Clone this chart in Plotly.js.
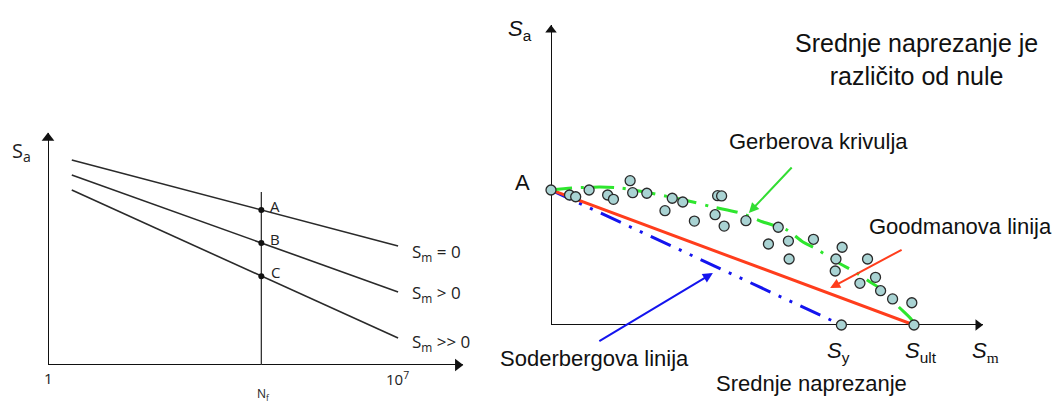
<!DOCTYPE html>
<html><head><meta charset="utf-8">
<script src="https://cdn.plot.ly/plotly-3.0.1.min.js"></script>
<style>html,body{margin:0;padding:0;background:#fff;}#chart{width:1054px;height:403px;}</style>
</head><body><div id="chart"></div>
<script>
// ---------- Left panel: S-N curves ----------
const lifeEnds = [3, 1.05e7];
const saZeroMean = [88.4, 51.3];
const saPosMean = [81.9, 31.5];
const saHighMean = [75.4, 11.6];
const refLife = [1.9e4, 1.9e4];
const refLineSa = [0, 74.6];
const pointLife = [1.9e4, 1.9e4, 1.9e4];
const pointSa = [66.8, 52.6, 38.3];
const pointLabels = ['A', 'B', 'C'];
const curveLabels = ['S<sub>m</sub> = 0', 'S<sub>m</sub> &gt; 0', 'S<sub>m</sub> &gt;&gt; 0'];
const curveLabelSa = [48.7, 31.0, 9.5];
const lifeTickVals = [1, 1e7];
const lifeTickText = ['1', '10<sup>7</sup>'];
const leftAxisMax = [10 ** 8.32, 100];   // arrow tips: N, Sa

// ---------- Right panel: mean stress diagram ----------
const goodmanSm = [0, 1];
const goodmanSa = [1, 0];
const soderbergSm = [0, 0.8];
const soderbergSa = [1, 0];
const gerberSm = [0, 0.061, 0.135, 0.190, 0.273, 0.391, 0.446, 0.521, 0.584, 0.650, 0.694, 0.727, 0.788, 0.837, 0.879, 0.912, 0.961, 0.994, 1.0];
const gerberSa = [1, 1.015, 1.022, 1.015, 0.978, 0.911, 0.874, 0.830, 0.763, 0.704, 0.615, 0.570, 0.467, 0.393, 0.319, 0.259, 0.126, 0.037, 0];
const testSm = [0, 0.051, 0.068, 0.105, 0.156, 0.172, 0.218, 0.225, 0.264, 0.314, 0.334, 0.363, 0.395, 0.452, 0.459, 0.470, 0.477, 0.537, 0.626, 0.599, 0.654, 0.656, 0.723, 0.802, 0.785, 0.783, 0.872, 0.851, 0.894, 0.908, 0.941, 0.994, 0.8, 1.0];
const testSa = [1, 0.963, 0.950, 1.0, 0.963, 0.931, 1.069, 0.980, 0.976, 0.847, 0.939, 0.911, 0.770, 0.817, 0.958, 0.956, 0.733, 0.773, 0.724, 0.600, 0.622, 0.489, 0.635, 0.576, 0.489, 0.400, 0.489, 0.309, 0.353, 0.254, 0.193, 0.165, 0, 0];
const Sy = 0.8, Sult = 1.0;
const rightAxisMax = [1.19, 2.222];   // arrow tips: Sm, Sa

const LF = 'Open Sans, Noto Sans, sans-serif';
const RF = 'Liberation Sans, Arial, sans-serif';
const leftLine = {color: '#2a2a2a', width: 1.6};
const axisLine = {color: '#111', width: 2};

// scale factors (pixels per unit) used for layout domains
const LXS = 49.86, LYS = 2.32, RXS = 363, RYS = 135;

const traces = [
  // left axes
  {x: [1, leftAxisMax[0]], y: [0, 0], mode: 'lines', line: axisLine, xaxis: 'x', yaxis: 'y', cliponaxis: false},
  {x: [1, 1], y: [0, leftAxisMax[1]], mode: 'lines', line: axisLine, xaxis: 'x', yaxis: 'y', cliponaxis: false},
  {x: [10 ** (8.32 - 5 / LXS)], y: [0], mode: 'markers', marker: {symbol: 'triangle-right', size: 11, color: '#111'}, xaxis: 'x', yaxis: 'y', cliponaxis: false},
  {x: [1], y: [leftAxisMax[1] - 5 / LYS], mode: 'markers', marker: {symbol: 'triangle-up', size: 11, color: '#111'}, xaxis: 'x', yaxis: 'y', cliponaxis: false},
  // left curves
  {x: lifeEnds, y: saZeroMean, mode: 'lines', line: leftLine, xaxis: 'x', yaxis: 'y', cliponaxis: false},
  {x: lifeEnds, y: saPosMean, mode: 'lines', line: leftLine, xaxis: 'x', yaxis: 'y', cliponaxis: false},
  {x: lifeEnds, y: saHighMean, mode: 'lines', line: leftLine, xaxis: 'x', yaxis: 'y', cliponaxis: false},
  {x: refLife, y: refLineSa, mode: 'lines', line: {color: '#333', width: 1.3}, xaxis: 'x', yaxis: 'y', cliponaxis: false},
  {x: pointLife, y: pointSa, mode: 'markers', marker: {size: 6, color: '#111'}, xaxis: 'x', yaxis: 'y', cliponaxis: false},
  // right axes
  {x: [0, rightAxisMax[0]], y: [0, 0], mode: 'lines', line: axisLine, xaxis: 'x2', yaxis: 'y2', cliponaxis: false},
  {x: [0, 0], y: [0, rightAxisMax[1]], mode: 'lines', line: axisLine, xaxis: 'x2', yaxis: 'y2', cliponaxis: false},
  {x: [rightAxisMax[0] - 5 / RXS], y: [0], mode: 'markers', marker: {symbol: 'triangle-right', size: 10, color: '#111'}, xaxis: 'x2', yaxis: 'y2', cliponaxis: false},
  {x: [0], y: [rightAxisMax[1] - 5 / RYS], mode: 'markers', marker: {symbol: 'triangle-up', size: 10, color: '#111'}, xaxis: 'x2', yaxis: 'y2', cliponaxis: false},
  // right curves
  {x: soderbergSm, y: soderbergSa, mode: 'lines', line: {color: '#1414ee', width: 3, dash: '22px,9px,3px,9px,3px,9px'}, xaxis: 'x2', yaxis: 'y2', cliponaxis: false},
  {x: goodmanSm, y: goodmanSa, mode: 'lines', line: {color: '#ff3d1c', width: 3}, xaxis: 'x2', yaxis: 'y2', cliponaxis: false},
  {x: gerberSm, y: gerberSa, mode: 'lines', line: {color: '#2ee62e', width: 3, dash: '21px,9px,3px,9px', shape: 'spline', smoothing: 0.8}, xaxis: 'x2', yaxis: 'y2', cliponaxis: false},
  {x: testSm, y: testSa, mode: 'markers', marker: {size: 10, color: '#a9d3d3', line: {color: '#2a2a2a', width: 1.3}}, xaxis: 'x2', yaxis: 'y2', cliponaxis: false}
];

const hidden = {showgrid: false, zeroline: false, showticklabels: false, showline: false, ticks: '', fixedrange: true};

const ann = [];
const base = {showarrow: false, xanchor: 'center', yanchor: 'middle'};
// left texts
const lt = (o) => Object.assign({}, base, {font: {family: LF, size: 15, color: '#222'}}, o);
ann.push(lt({xref: 'x', yref: 'y', x: 0, y: 100, xshift: -27, yshift: -19, text: 'S<sub>a</sub>', font: {family: LF, size: 20, color: '#222'}}));
pointLabels.forEach((t, i) => ann.push(lt({xref: 'x', yref: 'y', x: Math.log10(pointLife[i]), y: pointSa[i], xshift: 14, yshift: 4, text: t})));
curveLabels.forEach((t, i) => ann.push(lt({xref: 'x', yref: 'y', x: Math.log10(lifeEnds[1]), y: curveLabelSa[i], xshift: 12, xanchor: 'left', text: t, font: {family: LF, size: 17, color: '#222'}})));
lifeTickVals.forEach((v, i) => ann.push(lt({xref: 'x', yref: 'y', x: Math.log10(v), y: 0, yshift: -13, text: lifeTickText[i]})));
ann.push(lt({xref: 'x', yref: 'y', x: Math.log10(refLife[0]), y: 0, xshift: 2, yshift: -29, text: 'N<sub>f</sub>', font: {family: LF, size: 12, color: '#222'}}));

// right texts
const rt = (o) => Object.assign({}, base, {font: {family: RF, size: 22, color: '#111'}}, o);
ann.push(rt({xref: 'x2', yref: 'y2', x: 0, y: rightAxisMax[1], xshift: -31, yshift: -5, text: '<i>S</i><sub>a</sub>'}));
ann.push(rt({xref: 'x2', yref: 'y2', x: 0, y: 1, xshift: -29, yshift: 8, text: 'A'}));
ann.push(rt({xref: 'x2', yref: 'y2', x: 1.008, y: 1.963, text: 'Srednje naprezanje je<br>različito od nule', font: {family: RF, size: 25, color: '#111'}}));
ann.push(rt({xref: 'x2', yref: 'y2', x: 0.736, y: 1.356, text: 'Gerberova krivulja'}));
ann.push(rt({xref: 'x2', yref: 'y2', x: 1.127, y: 0.733, text: 'Goodmanova linija'}));
ann.push(rt({xref: 'paper', yref: 'paper', x: 594 / 1054, y: 1 - 358 / 403, text: 'Soderbergova linija'}));
ann.push(rt({xref: 'paper', yref: 'paper', x: 811 / 1054, y: 1 - 383 / 403, text: 'Srednje naprezanje'}));
ann.push(rt({xref: 'x2', yref: 'y2', x: Sy, y: 0, xshift: -3, yshift: -27, text: '<i>S</i><sub>y</sub>'}));
ann.push(rt({xref: 'x2', yref: 'y2', x: Sult, y: 0, xshift: 7, yshift: -27, text: '<i>S</i><sub>ult</sub>'}));
ann.push(rt({xref: 'x2', yref: 'y2', x: rightAxisMax[0], y: 0, xshift: 3, yshift: -27, text: '<i>S</i><sub><span style="font-family:Liberation Serif">m</span></sub>'}));

// pointer arrows
function pointer(x, y, ax, ay, c) {
  ann.push({xref: 'x2', yref: 'y2', axref: 'x2', ayref: 'y2', x: x, y: y, ax: ax, ay: ay, text: '', showarrow: true,
    arrowhead: 2, arrowsize: 1, arrowwidth: 2, arrowcolor: c, standoff: 0});
}
pointer(0.545, 0.830, 0.667, 1.178, '#33dd33');
pointer(0.446, 0.385, 0.129, -0.126, '#1414ee');
pointer(0.769, 0.274, 0.970, 0.563, '#ff3d1c');

const layout = {
  width: 1054, height: 403,
  margin: {l: 0, r: 0, t: 0, b: 0},
  paper_bgcolor: '#fff', plot_bgcolor: 'rgba(0,0,0,0)',
  showlegend: false,
  xaxis: Object.assign({}, hidden, {type: 'log', range: [0, 8.4], domain: [48 / 1054, (48 + 8.4 * LXS) / 1054], anchor: 'y'}),
  yaxis: Object.assign({}, hidden, {range: [0, 102], domain: [1 - 365 / 403, 1 - (365 - 102 * LYS) / 403], anchor: 'x'}),
  xaxis2: Object.assign({}, hidden, {range: [0, 1.2], domain: [551 / 1054, (551 + 1.2 * RXS) / 1054], anchor: 'y2'}),
  yaxis2: Object.assign({}, hidden, {range: [0, 2.25], domain: [1 - 325 / 403, 1 - (325 - 2.25 * RYS) / 403], anchor: 'x2'}),
  annotations: ann
};

Plotly.newPlot('chart', traces, layout, {staticPlot: true, displayModeBar: false});
</script>
</body></html>
